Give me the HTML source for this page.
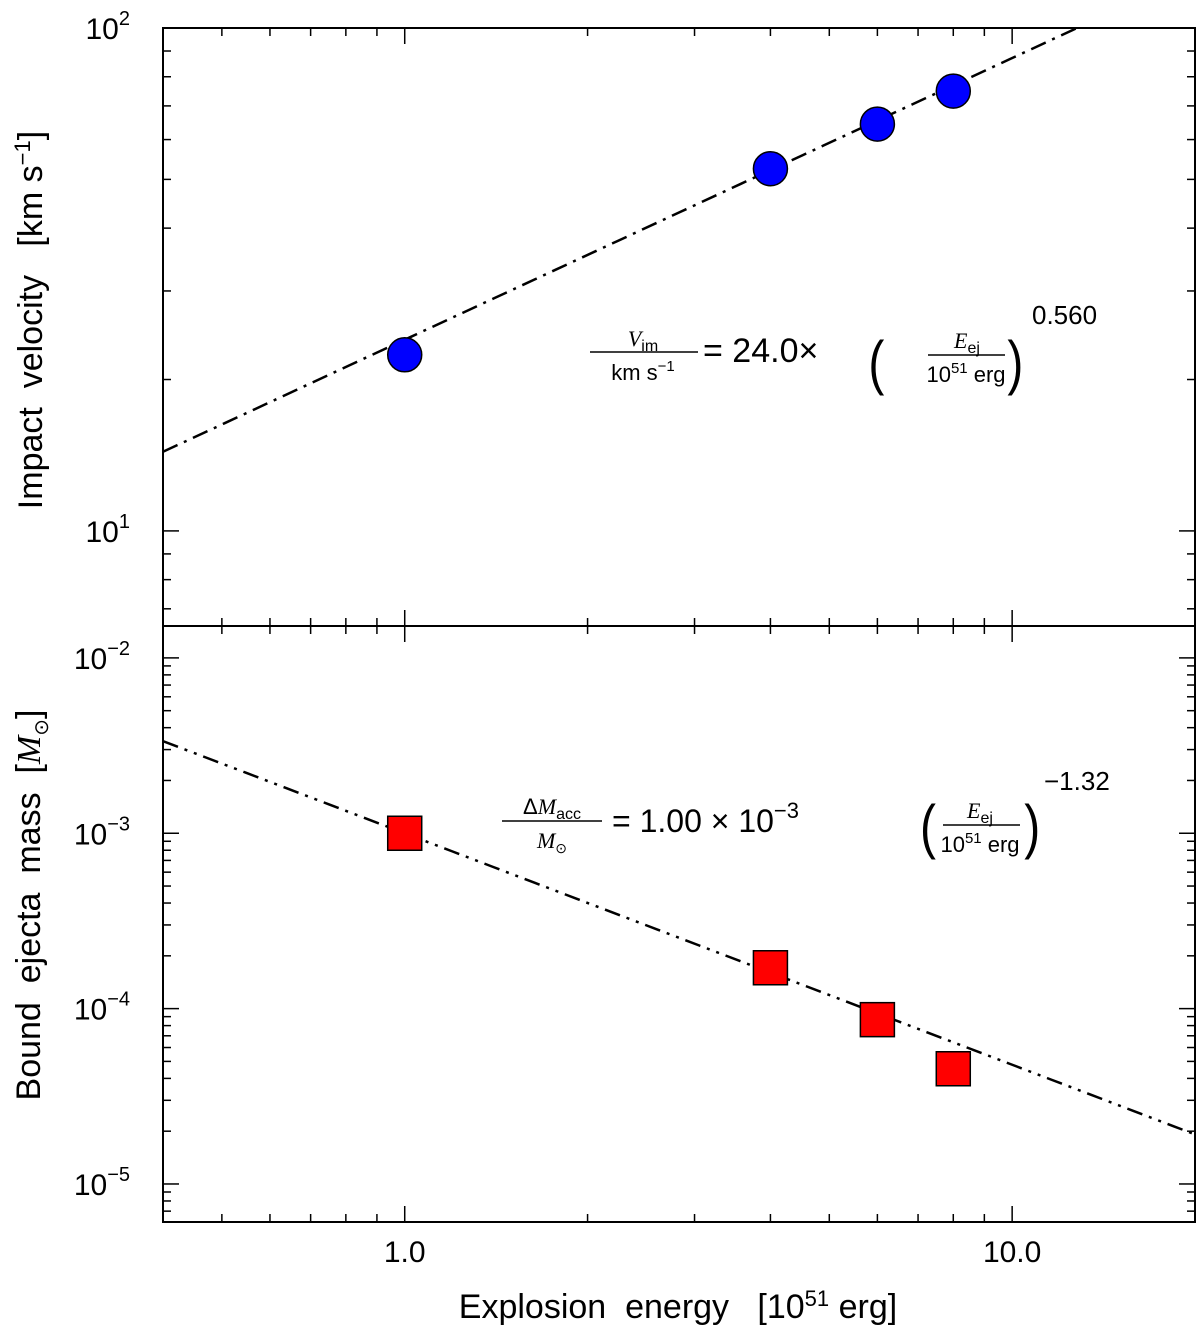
<!DOCTYPE html>
<html><head><meta charset="utf-8"><style>
body{margin:0;background:#fff;}
svg text{font-family:"Liberation Sans",sans-serif;fill:#000;white-space:pre;}
.serif{font-family:"Liberation Serif",serif;font-style:italic;}
</style></head><body>
<svg id="chart" width="1200" height="1330" viewBox="0 0 1200 1330" xmlns="http://www.w3.org/2000/svg">
<g id="g"></g>
<text transform="translate(42,320) rotate(-90)" text-anchor="middle" font-size="34">Impact  velocity   [km s<tspan dy="-12" font-size="22">−1</tspan><tspan dy="12">]</tspan></text>
<text transform="translate(40,905) rotate(-90)" text-anchor="middle" font-size="34">Bound  ejecta  mass  [<tspan class="serif">M</tspan><tspan font-size="20" dy="8">⊙</tspan><tspan dy="-8">]</tspan></text>
<text x="678" y="1318" text-anchor="middle" font-size="34">Explosion  energy   [10<tspan dy="-12" font-size="22">51</tspan><tspan dy="12"> erg]</tspan></text>
<g>
<text x="643" y="346" text-anchor="middle" font-size="22"><tspan class="serif">V</tspan><tspan font-size="16" dy="5">im</tspan></text>
<line x1="590" y1="352" x2="698" y2="352" stroke="#000" stroke-width="1.5"/>
<text x="643" y="380" text-anchor="middle" font-size="22">km s<tspan dy="-9" font-size="15">−1</tspan></text>
<text x="703" y="362" font-size="34">= 24.0×</text>
<text x="868" y="383" font-size="60" font-weight="100" transform="translate(174,0) scale(0.8,1)">(</text>
<text x="967" y="348" text-anchor="middle" font-size="22"><tspan class="serif">E</tspan><tspan font-size="16" dy="5">ej</tspan></text>
<line x1="928" y1="355" x2="1005" y2="355" stroke="#000" stroke-width="1.5"/>
<text x="966" y="382" text-anchor="middle" font-size="22">10<tspan dy="-9" font-size="15">51</tspan><tspan dy="9"> erg</tspan></text>
<text x="1008" y="383" font-size="60" font-weight="100" transform="translate(201,0) scale(0.8,1)">)</text>
<text x="1032" y="324" font-size="26">0.560</text>
</g>
<g>
<text x="552" y="814" text-anchor="middle" font-size="22">Δ<tspan class="serif">M</tspan><tspan font-size="16" dy="5">acc</tspan></text>
<line x1="502" y1="821" x2="602" y2="821" stroke="#000" stroke-width="1.5"/>
<text x="552" y="848" text-anchor="middle" font-size="22"><tspan class="serif">M</tspan><tspan font-size="14" dy="5">⊙</tspan></text>
<text x="612" y="832" font-size="32">= 1.00 × 10<tspan dy="-14" font-size="22">−3</tspan></text>
<text x="920" y="847" font-size="60" font-weight="100" transform="translate(184,0) scale(0.8,1)">(</text>
<text x="980" y="818" text-anchor="middle" font-size="22"><tspan class="serif">E</tspan><tspan font-size="16" dy="5">ej</tspan></text>
<line x1="943" y1="825" x2="1020" y2="825" stroke="#000" stroke-width="1.5"/>
<text x="980" y="852" text-anchor="middle" font-size="22">10<tspan dy="-9" font-size="15">51</tspan><tspan dy="9"> erg</tspan></text>
<text x="1024" y="847" font-size="60" font-weight="100" transform="translate(205,0) scale(0.8,1)">)</text>
<text x="1044" y="790" font-size="26">−1.32</text>
</g>
</svg>
<script>
const energies=[1,4,6,8];
const velocities=[22.4,52.5,64.4,74.9];
const masses=[1.0e-3,1.71e-4,8.65e-5,4.54e-5];
const velFit=[24.0,0.560];
const massFit=[1.0e-3,-1.32];
const xTickLabels=["1.0","10.0"];

const NS="http://www.w3.org/2000/svg";
const g=document.getElementById('g');
const X0=163,X1=1195,xmin=0.4,xmax=20;
const x=v=>X0+(Math.log10(v)-Math.log10(xmin))/(Math.log10(xmax)-Math.log10(xmin))*(X1-X0);
const pTop={y0:28,y1:626,min:6.47,max:100};
const pBot={y0:626,y1:1222,min:6.07e-6,max:0.0152};
const yf=p=>v=>p.y0+(Math.log10(p.max)-Math.log10(v))/(Math.log10(p.max)-Math.log10(p.min))*(p.y1-p.y0);
const yt=yf(pTop),yb=yf(pBot);
function el(t,a,parent){const e=document.createElementNS(NS,t);for(const k in a)e.setAttribute(k,a[k]);(parent||g).appendChild(e);return e;}
function tick(x1,y1,x2,y2){el('line',{x1,y1,x2,y2,stroke:'#000','stroke-width':1.5});}

[pTop,pBot].forEach(p=>{
  for(let d=-1;d<=1;d++)for(let m=1;m<10;m++){const v=m*Math.pow(10,d);if(v<xmin||v>xmax)continue;
    const L=m===1?16:8,xx=x(v);tick(xx,p.y0,xx,p.y0+L);tick(xx,p.y1,xx,p.y1-L);}
});
[1,10].forEach((v,i)=>{const t=el('text',{x:x(v),y:1262,'text-anchor':'middle','font-size':30});t.textContent=xTickLabels[i];

});
function yticks(p,yfun,dmin,dmax){
  for(let d=dmin;d<=dmax;d++)for(let m=1;m<10;m++){const v=m*Math.pow(10,d);if(v<p.min*0.999||v>p.max*1.001)continue;
    const L=m===1?16:8,yy=yfun(v);tick(X0,yy,X0+L,yy);tick(X1,yy,X1-L,yy);
    if(m===1){const t=el('text',{x:130,y:yy+11,'text-anchor':'end','font-size':30});
      
      
      t.innerHTML='10<tspan dy="-14" font-size="20">'+(d<0?'−'+(-d):d)+'</tspan>';}}
}
yticks(pTop,yt,0,2);yticks(pBot,yb,-6,-2);
el('rect',{x:X0,y:28,width:X1-X0,height:1194,fill:'none',stroke:'#000','stroke-width':2});
el('line',{x1:X0,y1:626,x2:X1,y2:626,stroke:'#000','stroke-width':2});
function fitLine(fit,yfun,p,name,dash){
  const pts=[];for(let i=0;i<=50;i++){const v=Math.pow(10,Math.log10(xmin)+i/50*(Math.log10(xmax)-Math.log10(xmin)));pts.push([x(v),yfun(fit[0]*Math.pow(v,fit[1]))]);}
  const cp=el('clipPath',{id:'c'+name});el('rect',{x:X0,y:p.y0,width:X1-X0,height:p.y1-p.y0},cp);
  const l=el('polyline',{points:pts.map(q=>q.join(',')).join(' '),fill:'none',stroke:'#000','stroke-width':2.5,'stroke-dasharray':dash,'clip-path':'url(#c'+name+')'});
  
  
}
fitLine(velFit,yt,pTop,'velocity-fit-line','16,7,3,7');
fitLine(massFit,yb,pBot,'mass-fit-line','16,7,3,7,3,7');
energies.forEach((e,i)=>{
  const c=el('circle',{cx:x(e),cy:yt(velocities[i]),r:17,fill:'#0000ff',stroke:'#000','stroke-width':1.5});
  
  
  const r=el('rect',{x:x(e)-17,y:yb(masses[i])-17,width:34,height:34,fill:'#ff0000',stroke:'#000','stroke-width':1.5});
  
  
});
</script>
</body></html>
